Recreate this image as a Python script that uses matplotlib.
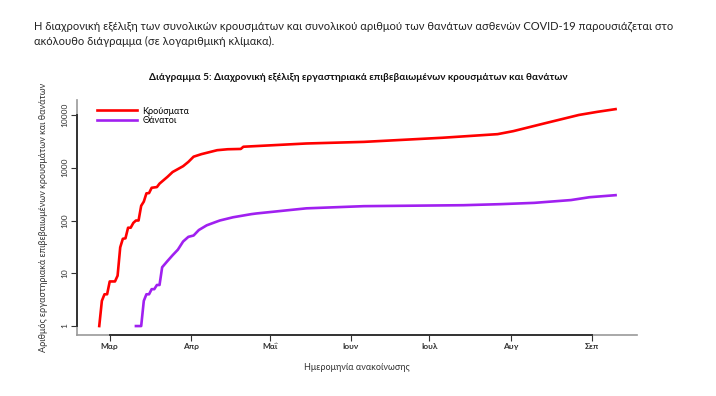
import pandas as pd
import matplotlib
matplotlib.use("Agg")
from matplotlib import pyplot as plt

# values (log scale)
case_dates = ["2020-02-26", "2020-02-27", "2020-02-28", "2020-02-29", "2020-03-01",
              "2020-03-03", "2020-03-04", "2020-03-05", "2020-03-06", "2020-03-07",
              "2020-03-08", "2020-03-09", "2020-03-10", "2020-03-11", "2020-03-12",
              "2020-03-13", "2020-03-14", "2020-03-15", "2020-03-16", "2020-03-17",
              "2020-03-19", "2020-03-20", "2020-03-23", "2020-03-25", "2020-03-29",
              "2020-03-31", "2020-04-02", "2020-04-05", "2020-04-11", "2020-04-15",
              "2020-04-20", "2020-04-21", "2020-05-15", "2020-06-06", "2020-07-06",
              "2020-07-27", "2020-08-02", "2020-08-14", "2020-08-27", "2020-09-03",
              "2020-09-10"]
cases = [1, 3, 4, 4, 7,
         7, 9, 31, 45, 46,
         73, 73, 90, 100, 100,
         190, 228, 327, 331, 417,
         430, 500, 670, 830, 1070,
         1290, 1620, 1810, 2150, 2240,
         2270, 2500, 2880, 3090, 3700,
         4330, 4940, 6950, 10000, 11450,
         12900]

death_dates = ["2020-03-11", "2020-03-13", "2020-03-14", "2020-03-15", "2020-03-16",
               "2020-03-17", "2020-03-18", "2020-03-19", "2020-03-20", "2020-03-21",
               "2020-03-23", "2020-03-25", "2020-03-27", "2020-03-29", "2020-03-31",
               "2020-04-02", "2020-04-04", "2020-04-07", "2020-04-10", "2020-04-12",
               "2020-04-17", "2020-04-24", "2020-04-26", "2020-05-15", "2020-06-06",
               "2020-07-14", "2020-07-28", "2020-08-10", "2020-08-24", "2020-08-31",
               "2020-09-10"]
deaths = [1, 1, 3, 4, 4,
          5, 5, 6, 6, 13,
          17, 22, 28, 40, 49,
          52, 66, 81, 92, 100,
          115, 132, 136, 170, 187,
          195, 204, 216, 244, 276,
          302]

month_ticks = ["2020-03-01", "2020-04-01", "2020-05-01", "2020-06-01",
               "2020-07-01", "2020-08-01", "2020-09-01"]
month_labels = ["Μαρ", "Απρ", "Μαΐ", "Ιουν", "Ιουλ", "Αυγ", "Σεπ"]
y_ticks = [1, 10, 100, 1000, 10000]

plt.rcParams["font.family"] = ["Lato", "DejaVu Sans"]

fig = plt.figure(figsize=(7.16, 3.96), dpi=100)
ax = fig.add_axes([0.1075, 0.154, 0.7815, 0.593])

ax.plot(pd.to_datetime(case_dates), cases, color="#ff0000", lw=1.9, label="Κρούσματα")
ax.plot(pd.to_datetime(death_dates), deaths, color="#a020f0", lw=1.9, label="Θάνατοι")

ax.set_yscale("log")
ymin = 10 ** -0.17
xmin = pd.Timestamp("2020-02-17 12:00")
ax.set_ylim(ymin, 10 ** 4.28)
ax.set_xlim(xmin, pd.Timestamp("2020-09-18"))

xt = pd.to_datetime(month_ticks)
ax.set_xticks(xt)
ax.set_xticklabels(month_labels, fontsize=6, color="#333333", fontweight="bold")
ax.set_yticks(y_ticks)
ax.set_yticklabels([str(v) for v in y_ticks], fontsize=6, color="#333333",
                   rotation=90, va="center")
ax.minorticks_off()
ax.tick_params(axis="both", length=4, width=0.8, color="#333333", pad=2)

for side in ["top", "right"]:
    ax.spines[side].set_visible(False)
for side in ["left", "bottom"]:
    ax.spines[side].set_color("#999999")
    ax.spines[side].set_linewidth(1.2)

# R-style axis line between first and last tick
ax.plot([xt[0], xt[-1]], [ymin, ymin], color="#333333", lw=1.4,
        clip_on=False, zorder=5)
ax.plot([xmin, xmin], [y_ticks[0], y_ticks[-1]], color="#333333", lw=1.4,
        clip_on=False, zorder=5)

ax.set_xlabel("Ημερομηνία ανακοίνωσης", fontsize=6.5, color="#333333", labelpad=9)
ax.set_ylabel("Αριθμός εργαστηριακά επιβεβαιωμένων κρουσμάτων και θανάτων",
              fontsize=6.5, color="#333333", labelpad=10)

ax.legend(loc="upper left", frameon=False, fontsize=6.5, handlelength=4.4,
          handletextpad=0.6, labelspacing=0.1, borderaxespad=0.3,
          bbox_to_anchor=(0.025, 1.0))

fig.text(0.0475, 0.932,
         "Η διαχρονική εξέλιξη των συνολικών κρουσμάτων και συνολικού αριθμού "
         "των θανάτων ασθενών COVID-19 παρουσιάζεται στο",
         fontsize=8, color="#222222", va="center")
fig.text(0.0475, 0.895, "ακόλουθο διάγραμμα (σε λογαριθμική κλίμακα).",
         fontsize=8, color="#222222", va="center")
fig.text(0.5, 0.804,
         "Διάγραμμα 5: Διαχρονική εξέλιξη εργαστηριακά επιβεβαιωμένων κρουσμάτων και θανάτων",
         fontsize=7.2, fontweight="bold", color="#111111", ha="center", va="center")

fig.savefig("out.png", dpi=100)
